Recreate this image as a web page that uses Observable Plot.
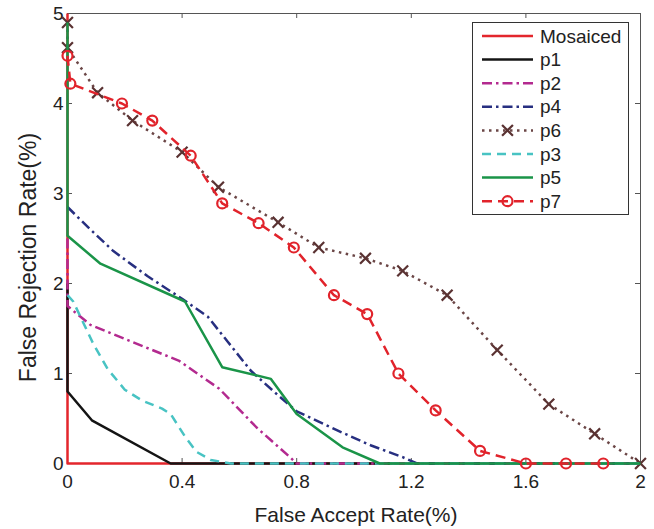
<!DOCTYPE html>
<html>
<head>
<meta charset="utf-8">
<script src="https://cdn.jsdelivr.net/npm/d3@7"></script>
<script src="https://cdn.jsdelivr.net/npm/@observablehq/plot@0.6"></script>
<style>
  body { margin: 0; background: #fff; }
  #chart { position: relative; width: 654px; height: 529px; font-family: "Liberation Sans", Arial, sans-serif; }
  #chart svg.legend { position: absolute; left: 0; top: 0; }
</style>
</head>
<body>
<div id="chart"></div>
<script>
// Axis ticks
const xTicks = [0, 0.4, 0.8, 1.2, 1.6, 2];
const yTicks = [0, 1, 2, 3, 4, 5];

// FAR (%) vs FRR (%) curves, as [far, frr] pairs
const mosaiced = [[0, 5], [0, 0], [2, 0]];
const p1 = [[0, 2.0], [0, 0.8], [0.085, 0.48], [0.36, 0], [2, 0]];
const p2 = [[0, 2.5], [0, 1.75], [0.08, 1.54], [0.39, 1.14], [0.53, 0.83], [0.66, 0.4], [0.78, 0.06], [0.8, 0], [2, 0]];
const p4 = [[0, 2.85], [0.08, 2.6], [0.16, 2.36], [0.28, 2.08], [0.4, 1.83], [0.49, 1.63], [0.56, 1.35], [0.64, 1.03], [0.72, 0.8], [0.8, 0.58], [0.94, 0.37], [1.06, 0.2], [1.17, 0.07], [1.22, 0], [2, 0]];
const p6 = [[0, 4.9], [0, 4.62], [0.105, 4.12], [0.227, 3.81], [0.4, 3.46], [0.527, 3.07], [0.735, 2.68], [0.877, 2.4], [1.04, 2.28], [1.17, 2.14], [1.325, 1.87], [1.5, 1.26], [1.68, 0.66], [1.84, 0.33], [2, 0]];
const p3 = [[0, 1.87], [0.02, 1.8], [0.09, 1.33], [0.14, 1.05], [0.2, 0.82], [0.26, 0.7], [0.33, 0.61], [0.36, 0.55], [0.41, 0.3], [0.45, 0.13], [0.5, 0.04], [0.57, 0], [2, 0]];
const p5 = [[0, 4.9], [0, 2.53], [0.115, 2.22], [0.41, 1.8], [0.54, 1.07], [0.71, 0.94], [0.8, 0.55], [0.96, 0.18], [1.09, 0], [2, 0]];
const p7 = [[0, 4.53], [0.01, 4.22], [0.19, 4.0], [0.296, 3.81], [0.43, 3.42], [0.54, 2.89], [0.667, 2.67], [0.79, 2.4], [0.93, 1.87], [1.046, 1.66], [1.155, 1.0], [1.285, 0.59], [1.44, 0.14], [1.6, 0], [1.74, 0], [1.87, 0]];

// Series in drawing (and legend) order
const seriesNames = ["Mosaiced", "p1", "p2", "p4", "p6", "p3", "p5", "p7"];
const seriesData = [mosaiced, p1, p2, p4, p6, p3, p5, p7];

// Line styling per series
const styles = {
  Mosaiced: {stroke: "#e3262c", dash: null},
  p1: {stroke: "#141414", dash: null},
  p2: {stroke: "#b32a8f", dash: "10 4 2.5 4"},
  p4: {stroke: "#272f80", dash: "10 4 2.5 4"},
  p6: {stroke: "#6b4646", dash: "2.5 4.5", marker: "times", markerStroke: "#5a3232"},
  p3: {stroke: "#48c3c3", dash: "9 6"},
  p5: {stroke: "#1a9448", dash: null},
  p7: {stroke: "#e1232b", dash: "10 6", marker: "circle", markerStroke: "#e1232b"}
};

const W = 654, H = 529;
const mL = 67, mR = 14, mT = 13, mB = 66;
const frameW = W - mL - mR, frameH = H - mT - mB;
const tickLen = 5;
const font = "'Liberation Sans', Arial, sans-serif";

const lineMarks = [];
seriesNames.forEach((name, i) => {
  const s = styles[name];
  lineMarks.push(Plot.line(seriesData[i], {
    x: d => d[0], y: d => d[1],
    stroke: s.stroke, strokeWidth: 2.5,
    strokeDasharray: s.dash || undefined,
    strokeLinejoin: "round", strokeLinecap: "butt"
  }));
  if (s.marker) {
    lineMarks.push(Plot.dot(seriesData[i], {
      x: d => d[0], y: d => d[1],
      symbol: s.marker, r: 5,
      stroke: s.markerStroke, strokeWidth: 2.2, fill: "none"
    }));
  }
});

const chart = Plot.plot({
  width: W, height: H,
  marginLeft: mL, marginRight: mR, marginTop: mT, marginBottom: mB,
  x: {domain: [0, 2]},
  y: {domain: [0, 5]},
  style: {fontFamily: font, fontSize: "19px", color: "#222", background: "#fff", overflow: "visible"},
  marks: [
    Plot.frame({stroke: "#555", strokeWidth: 1}),
    Plot.tickX(xTicks, {x: d => d, insetTop: frameH - tickLen, stroke: "#555"}),
    Plot.tickX(xTicks, {x: d => d, insetBottom: frameH - tickLen, stroke: "#555"}),
    Plot.tickY(yTicks, {y: d => d, insetRight: frameW - tickLen, stroke: "#555"}),
    Plot.tickY(yTicks, {y: d => d, insetLeft: frameW - tickLen, stroke: "#555"}),
    Plot.axisX(xTicks, {tickSize: 0, tickPadding: 11, label: null, fontSize: 19, tickFormat: d => String(d), fill: "#222"}),
    Plot.axisY(yTicks, {tickSize: 0, tickPadding: 4, label: null, fontSize: 19, tickFormat: d => String(d), fill: "#222"}),
    ...lineMarks,
    Plot.text(["False Accept Rate(%)"], {frameAnchor: "bottom", textAnchor: "middle", lineAnchor: "middle", dx: 2, dy: 52, fontSize: 21, fill: "#222"}),
    Plot.text(["False Rejection Rate(%)"], {frameAnchor: "left", textAnchor: "middle", lineAnchor: "middle", rotate: -90, dx: -39, dy: 19, fontSize: 23, fill: "#222"})
  ]
});

const container = document.getElementById("chart");
container.appendChild(chart);

// Legend box inside the upper-right corner of the axes
const lg = {x: 472, y: 22, w: 156, h: 192, row0: 36, rowStep: 23.6, lx0: 482, lx1: 533, tx: 540};
const legend = d3.create("svg")
  .attr("class", "legend")
  .attr("width", W).attr("height", H);
legend.append("rect")
  .attr("x", lg.x + 0.5).attr("y", lg.y + 0.5)
  .attr("width", lg.w).attr("height", lg.h)
  .attr("fill", "#fff").attr("stroke", "#333").attr("stroke-width", 1);
seriesNames.forEach((name, i) => {
  const s = styles[name];
  const y = lg.row0 + i * lg.rowStep;
  legend.append("line")
    .attr("x1", lg.lx0).attr("x2", lg.lx1).attr("y1", y).attr("y2", y)
    .attr("stroke", s.stroke).attr("stroke-width", 2.5)
    .attr("stroke-dasharray", s.dash);
  const cx = (lg.lx0 + lg.lx1) / 2;
  if (s.marker === "circle") {
    legend.append("circle").attr("cx", cx).attr("cy", y).attr("r", 5)
      .attr("fill", "none").attr("stroke", s.markerStroke).attr("stroke-width", 2.2);
  } else if (s.marker === "times") {
    legend.append("path")
      .attr("transform", `translate(${cx},${y})`)
      .attr("d", d3.symbol(d3.symbolTimes, Math.PI * 25)())
      .attr("fill", "none").attr("stroke", s.markerStroke).attr("stroke-width", 2.2);
  }
  legend.append("text")
    .attr("x", lg.tx).attr("y", y).attr("dy", "0.35em")
    .attr("font-family", font).attr("font-size", 19).attr("fill", "#222")
    .text(name);
});
container.appendChild(legend.node());
</script>
</body>
</html>
